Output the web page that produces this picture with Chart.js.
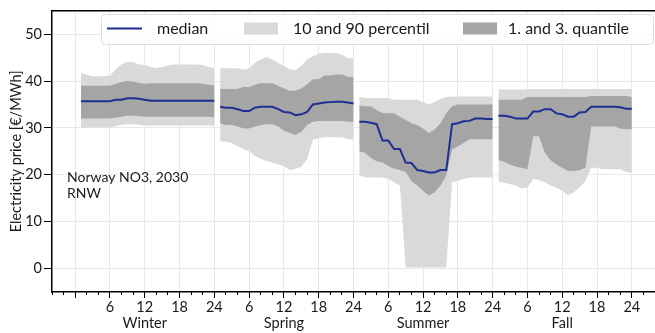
<!DOCTYPE html>
<html>
<head>
<meta charset="utf-8">
<script src="https://cdn.jsdelivr.net/npm/chart.js@4.4.1/dist/chart.umd.min.js"></script>
<style>
  html, body { margin: 0; padding: 0; background: #fff; }
  #wrap { width: 655px; height: 333px; }
</style>
</head>
<body>
<div id="wrap"><canvas id="c" width="655" height="333"></canvas></div>
<script>
// ---- categories ----
const seasons = ['Winter', 'Spring', 'Summer', 'Fall'];
const hourOfDay = [1,2,3,4,5,6,7,8,9,10,11,12,13,14,15,16,17,18,19,20,21,22,23,24];
const majorTickValues = [0,6,12,18,24,30,36,42,48,54,60,66,72,78,84,90,96];
const minorTickValues = [-4,-2,0,2,4,6,8,10,12,14,16,18,20,22,24,26,28,30,32,34,36,38,40,42,44,46,48,50,52,54,56,58,60,62,64,66,68,70,72,74,76,78,80,82,84,86,88,90,92,94,96,98,100];
const hourTickLabels = ['24', '6', '12', '18'];   // by (hour % 24) / 6
const yTickValues = [0, 10, 20, 30, 40, 50];
const legendLabels = ['median', '10 and 90 percentil', '1. and 3. quantile'];
const annotationLines = ['Norway NO3, 2030', 'RNW'];
const yTitle = 'Electricity price [€/MWh]';

// ---- series (24 hourly values per season: Winter, Spring, Summer, Fall) ----
const median = [
  35.7,35.7,35.7,35.7,35.7,35.7,36.0,36.0,36.3,36.3,36.2,36.0,35.8,35.8,35.8,35.8,35.8,35.8,35.8,35.8,35.8,35.8,35.8,35.8,
  34.5,34.3,34.3,34.0,33.6,33.6,34.3,34.5,34.5,34.5,34.0,33.4,33.3,32.7,32.9,33.4,35.0,35.2,35.4,35.5,35.6,35.6,35.4,35.2,
  31.3,31.3,31.1,30.8,27.3,27.3,25.5,25.5,22.6,22.5,21.0,20.8,20.5,20.5,21.0,21.0,30.8,31.0,31.4,31.5,32.0,32.0,31.9,31.9,
  32.6,32.6,32.4,32.0,32.0,32.0,33.5,33.5,34.0,34.0,33.1,32.9,32.4,32.4,33.3,33.4,34.5,34.5,34.5,34.5,34.5,34.4,34.1,34.1
];
const p90 = [
  41.7,41.4,41.0,41.0,41.0,41.1,42.5,43.6,44.1,44.0,43.5,43.4,43.0,42.8,43.0,43.3,43.5,43.5,43.5,43.5,43.5,43.4,43.0,42.7,
  42.7,42.7,42.7,42.7,42.4,42.7,43.9,44.6,45.1,44.6,43.9,43.2,42.5,42.3,43.2,44.6,45.3,45.8,46.0,46.0,46.0,45.6,44.9,44.8,
  36.7,36.4,36.4,36.4,36.4,36.4,36.0,36.0,36.0,36.0,36.0,35.5,35.0,35.5,36.2,36.6,36.7,36.7,36.7,36.7,36.7,36.7,36.7,36.7,
  38.3,38.2,38.2,38.2,38.2,38.2,38.3,38.3,38.3,38.3,38.3,38.3,38.3,38.3,38.3,38.3,38.3,38.3,38.3,38.3,38.3,38.3,38.3,38.3
];
const q3 = [
  39.0,39.0,39.0,39.0,39.0,39.0,39.4,39.8,40.0,39.9,39.6,39.4,39.5,39.5,39.5,39.5,39.5,39.5,39.5,39.5,39.5,39.4,39.2,39.1,
  38.3,38.3,38.3,38.3,38.7,38.7,39.2,39.5,39.5,39.5,39.0,38.4,37.9,37.9,38.4,39.3,40.4,40.4,41.2,41.2,41.4,41.4,40.9,40.8,
  34.8,34.6,34.6,33.8,33.2,33.1,33.1,32.4,31.7,31.0,30.6,29.9,28.9,29.6,31.0,33.1,34.6,35.0,35.0,35.0,35.0,35.0,35.0,35.0,
  36.0,36.0,36.0,36.0,36.0,36.6,36.6,36.6,36.6,36.6,36.6,36.6,36.6,36.6,36.6,36.6,36.8,36.8,36.8,36.8,36.8,36.8,36.8,36.6
];
const q1 = [
  32.0,32.0,32.0,32.0,32.0,32.0,32.2,32.4,32.6,32.6,32.5,32.4,32.4,32.4,32.4,32.4,32.4,32.4,32.4,32.4,32.4,32.4,32.4,32.2,
  31.0,30.6,30.6,30.3,29.9,29.9,30.3,30.6,30.8,30.8,30.3,29.4,28.9,28.5,29.2,30.6,31.3,31.5,31.5,31.5,31.5,31.5,31.3,31.3,
  25.0,24.7,23.6,22.9,22.6,21.9,21.3,21.0,20.6,18.7,17.7,16.6,15.6,16.3,17.7,19.8,25.4,26.1,26.8,27.6,27.6,27.6,27.6,27.6,
  23.1,22.8,22.2,21.7,21.5,21.2,28.2,28.2,24.7,23.1,22.2,21.5,20.8,20.8,21.0,21.5,30.3,30.3,30.3,30.3,30.3,29.9,29.7,29.7
];
const p10 = [
  30.1,30.1,30.1,30.1,30.1,30.1,30.4,30.7,30.8,30.8,30.7,30.5,30.5,30.5,30.5,30.5,30.5,30.5,30.5,30.5,30.5,30.5,30.5,30.4,
  27.1,27.1,26.8,26.1,25.5,25.0,24.0,23.4,22.9,22.6,22.2,21.9,21.0,21.3,21.7,23.3,27.5,27.8,28.0,28.0,28.0,28.0,27.6,27.6,
  19.9,19.4,19.4,19.4,19.4,19.1,18.4,17.7,0.2,0.2,0.2,0.2,0.2,0.2,0.2,0.2,18.4,18.7,19.1,19.4,19.4,19.4,19.4,19.4,
  18.5,18.3,18.0,17.7,17.1,17.3,19.1,18.9,18.4,17.7,17.3,16.6,15.6,16.3,17.3,18.7,21.5,21.5,21.2,21.2,21.2,21.2,20.6,20.4
];

// ---- styles ----
const LIGHT = '#d9d9d9';
const DARK = '#a5a5a5';
const NAVY = '#1f2e93';
const FONT = 'Lato, "Open Sans", sans-serif';
const TEXT = '#1a1a1a';

// ---- build datasets (one group per season) ----
const datasets = [];
seasons.forEach((name, s) => {
  const pts = arr => hourOfDay.map((h, i) => ({ x: s * 24 + h, y: arr[s * 24 + i] }));
  const band = { borderWidth: 0, borderColor: 'transparent', pointRadius: 0, tension: 0 };
  datasets.push(Object.assign({ label: name + ' p90', data: pts(p90), fill: '+1', backgroundColor: LIGHT, order: 3 }, band));
  datasets.push(Object.assign({ label: name + ' p10', data: pts(p10), fill: false, order: 3 }, band));
  datasets.push(Object.assign({ label: name + ' q3', data: pts(q3), fill: '+1', backgroundColor: DARK, order: 2 }, band));
  datasets.push(Object.assign({ label: name + ' q1', data: pts(q1), fill: false, order: 2 }, band));
  datasets.push({ label: name + ' median', data: pts(median), fill: false, borderColor: NAVY, borderWidth: 2,
                  pointRadius: 0, tension: 0, order: 1 });
});

function xTickLabel(v) {
  if (v === 0) return '';
  const h = v % 24;
  const lbl = hourTickLabels[h / 6];
  if (h === 12) return [lbl, seasons[Math.floor(v / 24)]];
  return lbl;
}

const extras = {
  id: 'extras',
  afterDraw(chart) {
    const ctx = chart.ctx;
    const a = chart.chartArea;
    ctx.save();
    // top frame line
    ctx.strokeStyle = '#000';
    ctx.lineWidth = 1.5;
    ctx.beginPath();
    ctx.moveTo(a.left, a.top);
    ctx.lineTo(a.right, a.top);
    ctx.stroke();

    // legend box
    const lx = 101, ly = 14, lw = 552, lh = 30;
    ctx.fillStyle = 'rgba(255,255,255,0.85)';
    ctx.strokeStyle = '#dcdcdc';
    ctx.lineWidth = 1;
    ctx.beginPath();
    ctx.roundRect(lx + 0.5, ly + 0.5, lw, lh, 4);
    ctx.fill();
    ctx.stroke();
    const cy = 28.5;
    ctx.strokeStyle = NAVY;
    ctx.lineWidth = 2;
    ctx.beginPath();
    ctx.moveTo(107, cy);
    ctx.lineTo(142, cy);
    ctx.stroke();
    ctx.fillStyle = LIGHT;
    ctx.fillRect(244, cy - 6, 34, 12);
    ctx.fillStyle = DARK;
    ctx.fillRect(463, cy - 6, 34, 12);
    ctx.fillStyle = TEXT;
    ctx.font = '16px ' + FONT;
    ctx.textBaseline = 'middle';
    ctx.textAlign = 'left';
    ctx.fillText(legendLabels[0], 157, cy);
    ctx.fillText(legendLabels[1], 293, cy);
    ctx.fillText(legendLabels[2], 508, cy);

    // annotation
    ctx.font = '14px ' + FONT;
    ctx.fillText(annotationLines[0], 67, 177);
    ctx.fillText(annotationLines[1], 67, 193);
    ctx.restore();
  }
};

new Chart(document.getElementById('c'), {
  type: 'line',
  data: { datasets },
  plugins: [extras],
  options: {
    responsive: false,
    animation: false,
    devicePixelRatio: 1,
    layout: { padding: { top: 5, right: 0, bottom: 0, left: 0 } },
    plugins: { legend: { display: false }, tooltip: { enabled: false } },
    scales: {
      x: {
        type: 'linear', min: -4, max: 100, position: 'bottom', weight: 1,
        afterBuildTicks: s => { s.ticks = majorTickValues.map(v => ({ value: v })); },
        afterFit: s => { s.height = 41; },
        grid: { color: '#e8e8e8', lineWidth: 1, tickLength: 6, tickColor: '#000', tickWidth: 1 },
        border: { display: true, color: '#000', width: 1.5 },
        ticks: { callback: xTickLabel, autoSkip: false, maxRotation: 0, padding: 1,
                 color: TEXT, font: { family: FONT, size: 14.5, lineHeight: 1.12 } }
      },
      xMinor: {
        type: 'linear', min: -4, max: 100, position: 'bottom', weight: 0,
        afterBuildTicks: s => { s.ticks = minorTickValues.map(v => ({ value: v })); },
        afterFit: s => { s.height = 0; },
        grid: { drawOnChartArea: false, tickLength: 3, tickColor: '#000', tickWidth: 1 },
        border: { display: false },
        ticks: { display: false }
      },
      y: {
        type: 'linear', min: -5, max: 55,
        afterBuildTicks: s => { s.ticks = yTickValues.map(v => ({ value: v })); },
        afterFit: s => { s.width = 52; },
        grid: { color: '#e8e8e8', lineWidth: 1, tickLength: 8, tickColor: '#000', tickWidth: 1 },
        border: { display: true, color: '#000', width: 1.5 },
        ticks: { padding: 2, color: TEXT, font: { family: FONT, size: 14.5 } },
        title: { display: true, text: yTitle, color: TEXT, font: { family: FONT, size: 14.5 }, padding: { top: 8, bottom: 0 } }
      }
    }
  }
});
</script>
</body>
</html>
